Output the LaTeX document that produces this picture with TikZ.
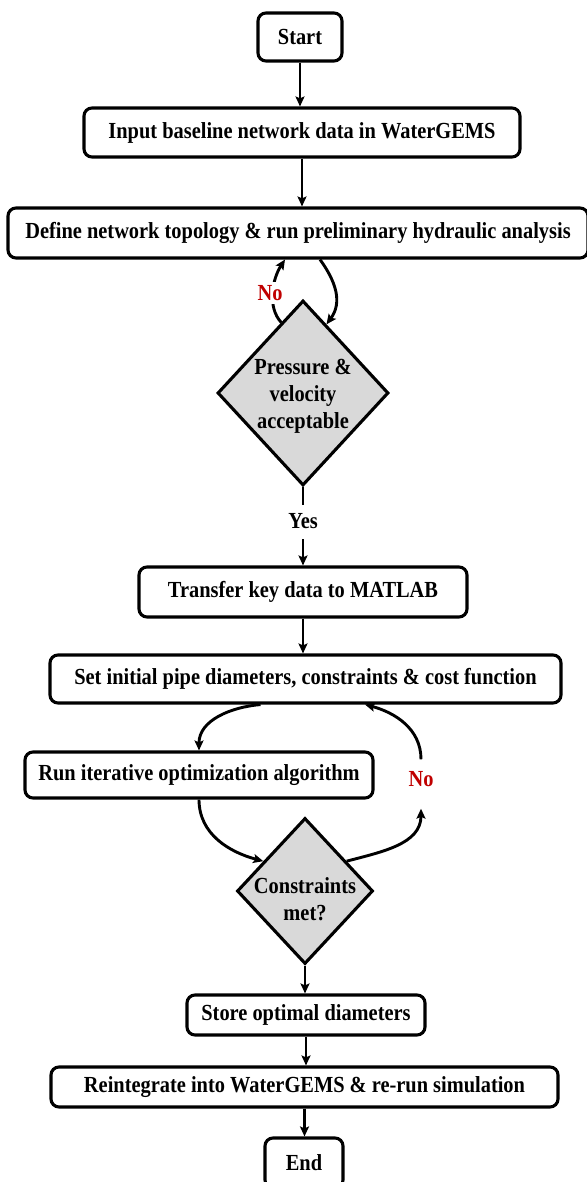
\documentclass[tikz,border=0pt]{standalone}
\usepackage{fontspec}
\setmainfont{Liberation Serif}[FakeStretch=0.887]
\usetikzlibrary{shapes.geometric,arrows.meta,calc}
\definecolor{dgray}{HTML}{D9D9D9}
\definecolor{nored}{HTML}{C00000}
\begin{document}
\begin{tikzpicture}[x=1bp,y=1bp,
  font=\fontsize{23bp}{27bp}\selectfont\bfseries,
  box/.style={draw, rounded corners=8bp, fill=white, inner sep=0pt, line width=3.1bp},
  decision/.style={draw, diamond, fill=dgray, inner sep=0pt, line width=3.1bp},
  conn/.style={-{Stealth[length=10bp,width=9bp,inset=2bp]}, line width=2.9bp},
  nolab/.style={text=nored, fill=white, inner xsep=4bp, inner ysep=3bp},
  yeslab/.style={fill=white, inner xsep=6bp, minimum height=34bp}]
\useasboundingbox (0,0) rectangle (587,1182);
% nodes
\node[box, minimum width=84bp, minimum height=48bp] (start) at (300,1145) {Start};
\node[box, minimum width=436bp, minimum height=49bp] (input) at (302,1049.5) {Input baseline network data in WaterGEMS};
\node[box, minimum width=580bp, minimum height=50bp] (define) at (298,949) {Define network topology \& run preliminary hydraulic analysis};
\node[decision, minimum width=171bp, minimum height=185bp] (d1) at (303,789) {};
\node[align=center] (d1t) at ([yshift=-3bp]d1.center) {Pressure \&\\velocity\\acceptable};
\node[box, minimum width=328bp, minimum height=50bp] (transfer) at (303,590) {Transfer key data to MATLAB};
\node[box, minimum width=511bp, minimum height=48bp] (set) at (305.5,503) {Set initial pipe diameters, constraints \& cost function};
\node[box, minimum width=348bp, minimum height=46bp] (run) at (199,407) {Run iterative optimization algorithm};
\node[decision, minimum width=136bp, minimum height=146bp] (d2) at (305,291) {};
\node[align=center] (d2t) at ([yshift=-8bp]d2.center) {Constraints\\met?};
\node[nolab, minimum height=39bp] (no2) at (421,403) {No};
\node[box, minimum width=238bp, minimum height=40bp] (store) at (306,167) {Store optimal diameters};
\node[box, minimum width=507bp, minimum height=40bp] (reint) at (304.5,95) {Reintegrate into WaterGEMS \& re-run simulation};
\node[box, minimum width=78bp, minimum height=50bp] (end) at (304,19) {End};
% connectors
\draw[conn] (start.south) -- (start.south |- input.north);
\draw[conn] (input.south) -- (input.south |- define.north);
\draw[conn] ($(d1.north |- define.south)+(17,0)$) .. controls +(16,-22) and +(16,22) .. ($(d1.north)!0.27!(d1.east)$);
\draw[conn] ($(d1.north)!0.25!(d1.west)$) .. controls +(-14,15) and +(-13,-20) .. node[nolab, pos=0.5, xshift=-3bp] (no1) {No} ($(d1.north |- define.south)+(-18,0)$);
\draw[conn] (d1.south) -- node[yeslab, pos=0.44] (yes) {Yes} (d1.south |- transfer.north);
\draw[conn] (transfer.south) -- (transfer.south |- set.north);
\draw[conn] ($(set.south)+(-45,0)$) to[out=185,in=90] (run.north);
\draw[conn] (run.south) to[out=-90,in=165] ($(d2.north)!0.6!(d2.west)$);
\draw[conn] ($(d2.north)!0.6!(d2.east)$) to[out=15,in=-90] ($(no2.south)+(0,-10)$);
\draw[conn] (no2.north) to[out=90,in=-15] ($(set.south)+(59.5,0)$);
\draw[conn] (d2.south) -- (d2.south |- store.north);
\draw[conn] (store.south) -- (store.south |- reint.north);
\draw[conn] (reint.south) -- (reint.south |- end.north);
\end{tikzpicture}
\end{document}
